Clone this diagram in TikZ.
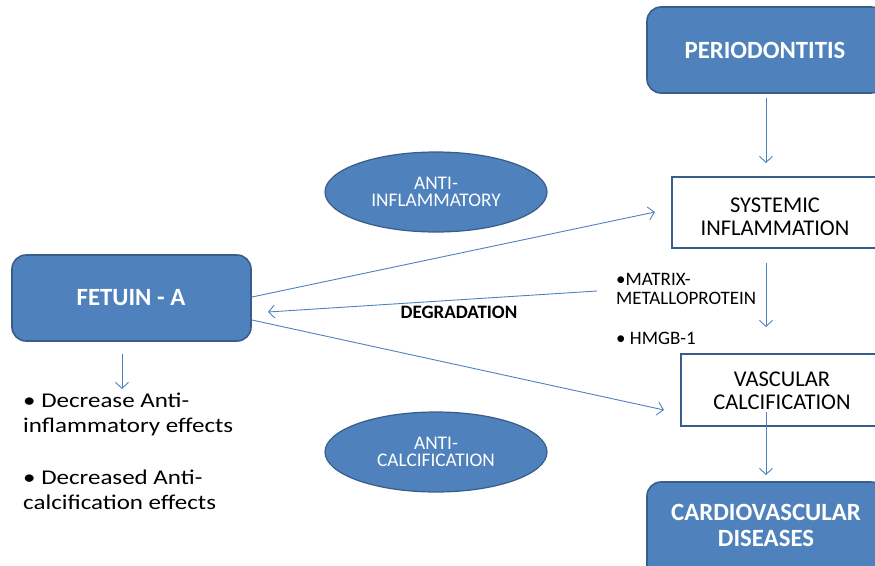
\documentclass[tikz,border=0pt]{standalone}
\usepackage{fontspec}
\setmainfont{Carlito}
\newfontfamily\bulfont{Carlito}[FakeStretch=1.19]
\usetikzlibrary{arrows.meta,shapes.geometric}
\definecolor{obl}{HTML}{4F81BD}
\definecolor{odk}{HTML}{385D8A}
\tikzset{
  rbox/.style={draw=odk,line width=1.6pt,fill=obl,rounded corners=14pt},
  rtxt/.style={text=white,font=\bfseries\fontsize{24.8}{26}\selectfont,align=center,inner sep=0pt},
  wbox/.style={draw=odk,line width=2pt,fill=white},
  wtxt/.style={font=\fontsize{22.5}{23}\selectfont,align=center,inner sep=0pt},
  oval/.style={ellipse,draw=odk,line width=1.2pt,fill=obl,text=white,font=\fontsize{19.3}{17.5}\selectfont,align=center,inner sep=0pt},
  conn/.style={draw=obl,line width=0.9pt,-{Straight Barb[length=6pt,width=13pt]}},
  small/.style={font=\fontsize{19}{19.5}\selectfont,align=left,anchor=north west,inner sep=0pt},
  bul/.style={font=\bulfont\fontsize{21}{25}\selectfont,align=left,anchor=north west,inner sep=0pt},
}
\begin{document}
\begin{tikzpicture}[x=1pt,y=-1pt]
\useasboundingbox (0,0) rectangle (875,565);
\clip (0,0) rectangle (875,565);
% boxes
\draw[rbox] (647,7) rectangle (885,93);
\node[rtxt] (perio) at (765,50) {PERIODONTITIS};
\coordinate (perioB) at (766,98);
\draw[wbox] (672,177) rectangle (880,248);
\node[wtxt] (sys) at (775,216.5) {SYSTEMIC\\INFLAMMATION};
\coordinate (sysT) at (766,163);
\coordinate (sysB) at (766,263);
\coordinate (sysL) at (655,212);
\draw[wbox] (681,354) rectangle (884,426);
\node[wtxt] (vas) at (782,390.5) {VASCULAR\\CALCIFICATION};
\coordinate (vasT) at (766,327);
\coordinate (vasL) at (664,410);
\coordinate (vasIn) at (766,412);
\draw[rbox] (647,482) rectangle (885,600);
\node[rtxt] (cvd) at (766,525.5) {CARDIOVASCULAR\\DISEASES};
\coordinate (cvdT) at (766,475);
\draw[rbox] (12,255) rectangle (251,341);
\node[rtxt] (fet) at (131,297.5) {FETUIN - A};
\coordinate (fetR1) at (252,297);
\coordinate (fetR2) at (252,320);
\coordinate (fetArr) at (268,312);
\coordinate (fetB) at (122,354);
\coordinate (bulT) at (122,389);
% ellipses
\node[oval,minimum width=222pt,minimum height=80pt] (ai) at (436,192) {ANTI-\\INFLAMMATORY};
\node[oval,minimum width=222pt,minimum height=80pt] (ac) at (436,452) {ANTI-\\CALCIFICATION};
% texts
\node[small] (mmp) at (616,273) {•MATRIX-\\METALLOPROTEIN};
\coordinate (mmpL) at (597,291);
\node[small] (hmgb) at (616,332) {• HMGB-1};
\node[font=\bfseries\fontsize{19}{20}\selectfont,inner sep=0pt] (deg) at (459,312.5) {DEGRADATION};
\node[bul] (b1) at (23,393) {• Decrease Anti-\\inflammatory effects};
\node[bul] (b2) at (23,470) {• Decreased Anti-\\calcification effects};
% connectors
\draw[conn] (perioB) -- (sysT);
\draw[conn] (sysB) -- (vasT);
\draw[conn] (vasIn) -- (cvdT);
\draw[conn] (fetB) -- (bulT);
\draw[conn] (fetR1) -- (sysL);
\draw[conn] (fetR2) -- (vasL);
\draw[conn] (mmpL) -- (fetArr);
\end{tikzpicture}
\end{document}
